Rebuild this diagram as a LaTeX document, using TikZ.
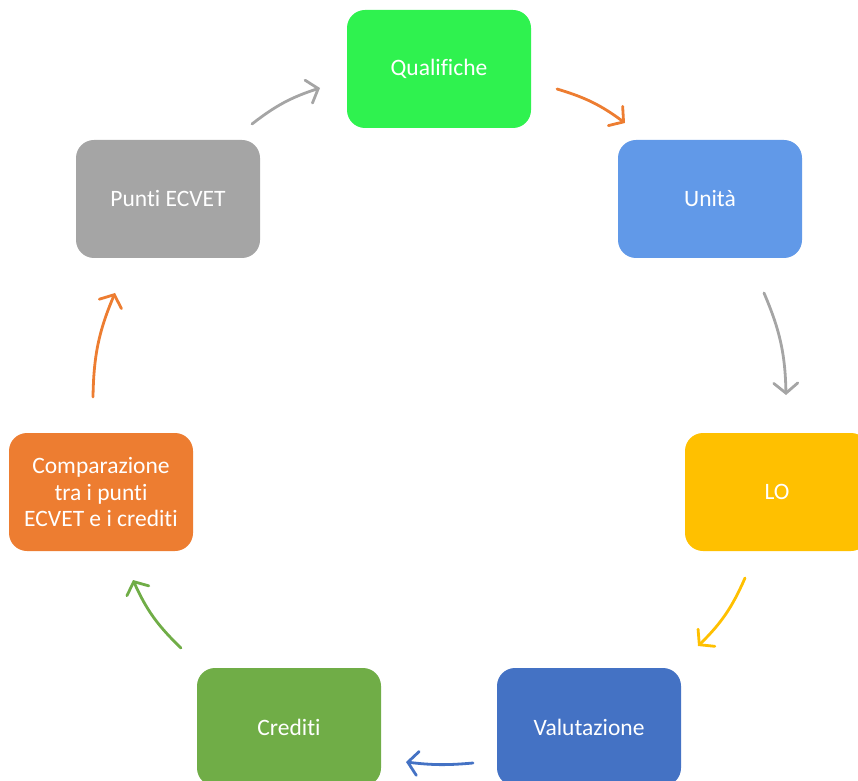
\documentclass[tikz,border=0pt]{standalone}
\usepackage{fontspec}
\setmainfont{Carlito}[Ligatures=NoCommon]
\usetikzlibrary{arrows.meta}
\definecolor{cQual}{HTML}{2FF24F}
\definecolor{cUnit}{HTML}{6199E8}
\definecolor{cLO}{HTML}{FFC000}
\definecolor{cVal}{HTML}{4472C4}
\definecolor{cCred}{HTML}{70AD47}
\definecolor{cComp}{HTML}{ED7D31}
\definecolor{cPunti}{HTML}{A5A5A5}
\tikzset{
  box/.style={draw=none, rounded corners=18pt, minimum width=184pt, minimum height=118pt,
    text=white, align=center, inner sep=0pt, font=\fontsize{23.5}{26.5}\selectfont},
  conn/.style={line width=2.8pt, line cap=round, -{Straight Barb[length=10pt,width=24pt,line cap=round]}}
}
\begin{document}
\begin{tikzpicture}[x=1pt,y=1pt]
\useasboundingbox (0,0) rectangle (858,780);
\clip (0,0) rectangle (858,780);
\node[box, fill=cQual] (qual) at (439,711) {Qualifiche};
\node[box, fill=cUnit] (unit) at (710,581) {Unità};
\node[box, fill=cLO] (lo) at (777,288) {LO};
\node[box, fill=cVal] (val) at (589,53) {Valutazione};
\node[box, fill=cCred] (cred) at (289,53) {Crediti};
\node[box, fill=cComp] (comp) at (101,288) {Comparazione\\tra i punti\\ECVET e i crediti};
\node[box, fill=cPunti] (punti) at (168,581) {Punti ECVET};
\coordinate (a1s) at (557,691);
\coordinate (a1e) at (625,657);
\coordinate (a2s) at (764,487);
\coordinate (a2e) at (786,385);
\coordinate (a3s) at (745,202);
\coordinate (a3e) at (698,134);
\coordinate (a4s) at (473,17);
\coordinate (a4e) at (406,18);
\coordinate (a5s) at (181,132);
\coordinate (a5e) at (133,200);
\coordinate (a6s) at (93,383);
\coordinate (a6e) at (115,487);
\coordinate (a7s) at (252,656);
\coordinate (a7e) at (320,692);
\draw[conn, draw=cComp] (a1s) to[bend left=10] (a1e);
\draw[conn, draw=cPunti] (a2s) to[bend left=11] (a2e);
\draw[conn, draw=cLO] (a3s) to[bend left=11] (a3e);
\draw[conn, draw=cVal] (a4s) to[bend left=6] (a4e);
\draw[conn, draw=cCred] (a5s) to[bend left=11] (a5e);
\draw[conn, draw=cComp] (a6s) to[bend left=11] (a6e);
\draw[conn, draw=cPunti] (a7s) to[bend left=10] (a7e);
\end{tikzpicture}
\end{document}
